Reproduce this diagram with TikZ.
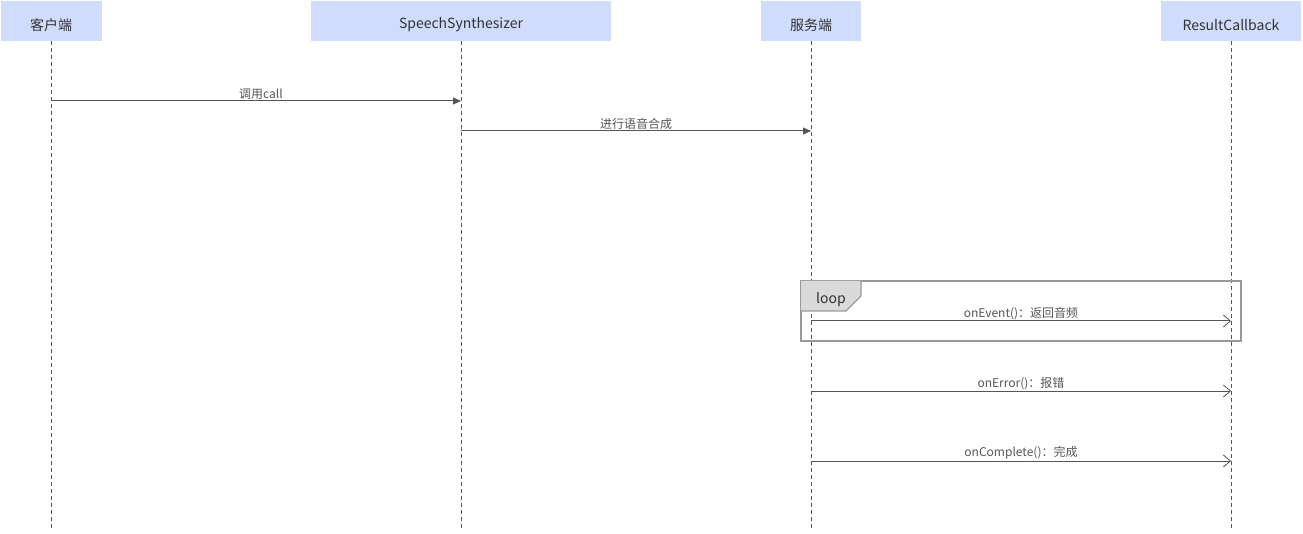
\documentclass[tikz,border=0pt]{standalone}
\usepackage{fontspec}
\setmainfont{Noto Sans CJK SC}
\usetikzlibrary{arrows.meta}
\definecolor{headfill}{HTML}{D0DCFC}
\definecolor{txt}{HTML}{333333}
\definecolor{msgtxt}{HTML}{555555}
\definecolor{line}{HTML}{555555}
\definecolor{frame}{HTML}{999999}
\definecolor{tabfill}{HTML}{D9D9D9}
\tikzset{
  head/.style={fill=headfill, draw=none, minimum height=40pt, inner sep=0pt, font=\fontsize{14}{16}\selectfont, text=txt},
  headtxt/.style={font=\fontsize{14}{16}\selectfont, text=txt, inner sep=0pt},
  lifeline/.style={draw=line, dashed, dash pattern=on 4pt off 3pt, line width=0.8pt},
  syncmsg/.style={draw=line, line width=1pt, -{Triangle[length=8pt,width=7pt]}},
  retmsg/.style={draw=line, line width=1pt, -{Straight Barb[length=7pt,width=12pt,line width=0.8pt]}},
  lbl/.style={font=\fontsize{12}{14}\selectfont, text=msgtxt, inner sep=0pt, anchor=base},
}
\begin{document}
\begin{tikzpicture}[x=1pt,y=-1pt]
\useasboundingbox (0,0) rectangle (1303,534);
% heads
\node[head, minimum width=101pt] (c) at (51.5,21) {};
\node[head, minimum width=300pt] (s) at (461,21) {};
\node[head, minimum width=100pt] (f) at (811,21) {};
\node[head, minimum width=140pt] (r) at (1231,21) {};
\node[headtxt] (ct) at (51,25) {客户端};
\node[headtxt] (st) at (461,25) {SpeechSynthesizer};
\node[headtxt] (ft) at (811,25) {服务端};
\node[headtxt] (rt) at (1231,25) {ResultCallback};
% lifeline ends
\coordinate (ce) at (51,531);
\coordinate (se) at (461,531);
\coordinate (fe) at (811,531);
\coordinate (re) at (1231,531);
\draw[lifeline] (c.south -| ce) -- (ce);
\draw[lifeline] (s.south) -- (se);
\draw[lifeline] (f.south) -- (fe);
\draw[lifeline] (r.south) -- (re);
% loop frame
\draw[frame, line width=1.5pt] (801,281) rectangle (1241,341);
\fill[tabfill] (801,281) -- (861,281) -- (861,296) -- (846,311) -- (801,311) -- cycle;
\draw[frame, line width=1.2pt] (861,281) -- (861,296) -- (846,311) -- (801,311);
\node[font=\fontsize{14}{16}\selectfont, text=txt] (loop) at (831,300) {loop};
% messages
\coordinate (c1) at (51,101); \coordinate (s1) at (461,101);
\draw[syncmsg] (c1) -- node[lbl, above=1pt, xshift=5pt] {调用call} (s1);
\coordinate (s2) at (461,131); \coordinate (f2) at (811,131);
\draw[syncmsg] (s2) -- node[lbl, above=1pt] {进行语音合成} (f2);
\coordinate (f3) at (811,321); \coordinate (r3) at (1231,321);
\draw[retmsg] (f3) -- node[lbl, above=1pt] {onEvent()：返回音频} (r3);
\coordinate (f4) at (811,391); \coordinate (r4) at (1231,391);
\draw[retmsg] (f4) -- node[lbl, above=1pt] {onError()：报错} (r4);
\coordinate (f5) at (811,461); \coordinate (r5) at (1231,461);
\draw[retmsg] (f5) -- node[lbl, above=1pt] {onComplete()：完成} (r5);
\end{tikzpicture}
\end{document}
